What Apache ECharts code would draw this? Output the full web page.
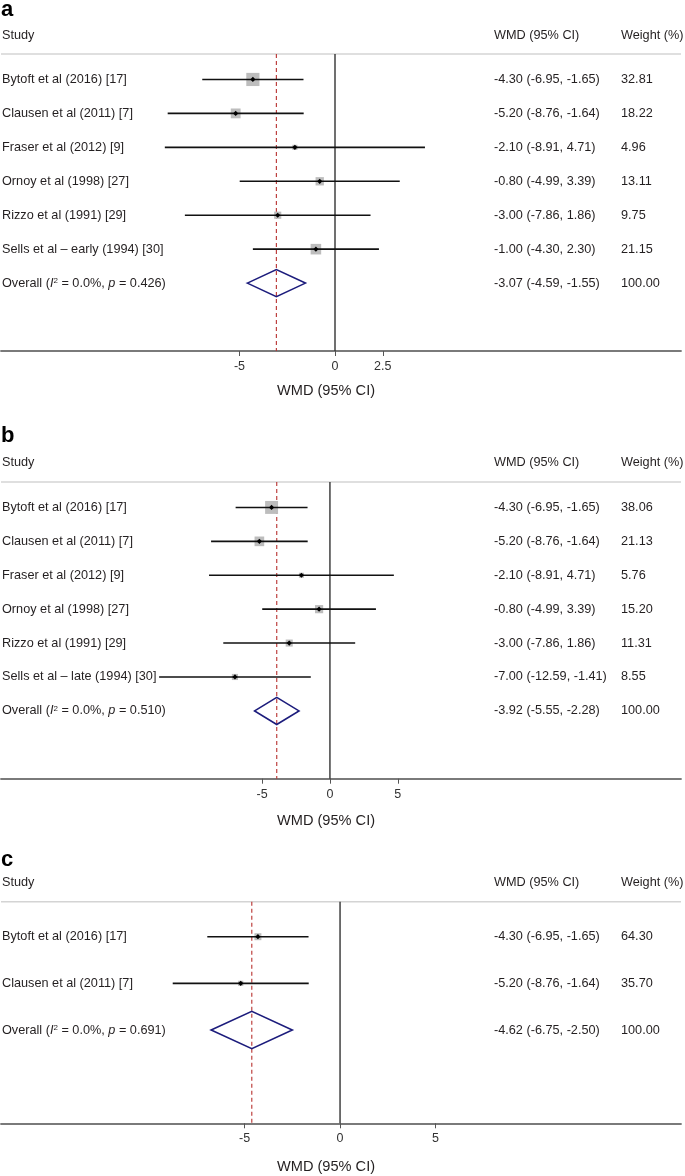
<!DOCTYPE html>
<html><head><meta charset="utf-8">
<script src="https://cdn.jsdelivr.net/npm/echarts@6/dist/echarts.min.js"></script>
<style>html,body{margin:0;padding:0;background:#fff}#c{width:685px;height:1176px}</style>
</head><body><div id="c"></div>
<script>
// ---------- DATA ----------
const panelLetters = ['a', 'b', 'c'];

const studiesA = ['Bytoft et al (2016) [17]', 'Clausen et al (2011) [7]', 'Fraser et al (2012) [9]', 'Ornoy et al (1998) [27]', 'Rizzo et al (1991) [29]', 'Sells et al \u2013 early (1994) [30]'];
const estA = [-4.30, -5.20, -2.10, -0.80, -3.00, -1.00];
const lowA = [-6.95, -8.76, -8.91, -4.99, -7.86, -4.30];
const highA = [-1.65, -1.64, 4.71, 3.39, 1.86, 2.30];
const weightA = [32.81, 18.22, 4.96, 13.11, 9.75, 21.15];
const overallA = [-3.07, -4.59, -1.55];
const i2A = '0.0%';
const pA = '0.426';
const ticksA = [-5, 0, 2.5];
const tickLabelsA = ['-5', '0', '2.5'];

const studiesB = ['Bytoft et al (2016) [17]', 'Clausen et al (2011) [7]', 'Fraser et al (2012) [9]', 'Ornoy et al (1998) [27]', 'Rizzo et al (1991) [29]', 'Sells et al \u2013 late (1994) [30]'];
const estB = [-4.30, -5.20, -2.10, -0.80, -3.00, -7.00];
const lowB = [-6.95, -8.76, -8.91, -4.99, -7.86, -12.59];
const highB = [-1.65, -1.64, 4.71, 3.39, 1.86, -1.41];
const weightB = [38.06, 21.13, 5.76, 15.20, 11.31, 8.55];
const overallB = [-3.92, -5.55, -2.28];
const i2B = '0.0%';
const pB = '0.510';
const ticksB = [-5, 0, 5];
const tickLabelsB = ['-5', '0', '5'];

const studiesC = ['Bytoft et al (2016) [17]', 'Clausen et al (2011) [7]'];
const estC = [-4.30, -5.20];
const lowC = [-6.95, -8.76];
const highC = [-1.65, -1.64];
const weightC = [64.30, 35.70];
const overallC = [-4.62, -6.75, -2.50];
const i2C = '0.0%';
const pC = '0.691';
const ticksC = [-5, 0, 5];
const tickLabelsC = ['-5', '0', '5'];

const headStudy = 'Study';
const headEffect = 'WMD (95% CI)';
const headWeight = 'Weight (%)';
const axisTitle = 'WMD (95% CI)';
const overallWord = 'Overall';

// ---------- LAYOUT / STYLE ----------
const FONT = '"Liberation Sans", Arial, Helvetica, sans-serif';
const TXT = '#231f20';
const FS = 12.7;
const colEffectX = 494;
const colWeightX = 621;

const panels = [
  { letter: panelLetters[0], studies: studiesA, est: estA, low: lowA, high: highA, weight: weightA, overall: overallA, i2: i2A, p: pA, ticks: ticksA, tickLabels: tickLabelsA,
    top: 54, height: 297, min: -17.487, max: 18.115, boxK: 2.3, letterY: 10, headY: 35.4, titleY: 391 },
  { letter: panelLetters[1], studies: studiesB, est: estB, low: lowB, high: highB, weight: weightB, overall: overallB, i2: i2B, p: pB, ticks: ticksB, tickLabels: tickLabelsB,
    top: 482, height: 296.7, min: -24.24, max: 25.87, boxK: 2.1, letterY: 435.5, headY: 462.9, titleY: 821 },
  { letter: panelLetters[2], studies: studiesC, est: estC, low: lowC, high: highC, weight: weightC, overall: overallC, i2: i2C, p: pC, ticks: ticksC, tickLabels: tickLabelsC,
    top: 901.7, height: 221.6, min: -17.75, max: 17.85, boxK: 0.87, letterY: 859.5, headY: 882.2, titleY: 1166.6 }
];

const fmt = v => v.toFixed(2);
const ciText = (e, l, h) => fmt(e) + ' (' + fmt(l) + ', ' + fmt(h) + ')';

function textEl(x, y, text, extra) {
  return {
    type: 'text', x: x, y: y,
    style: Object.assign({ text: text, fill: TXT, fontSize: FS, fontFamily: FONT, align: 'left', verticalAlign: 'middle' }, extra || {})
  };
}

const grids = [], xAxes = [], yAxes = [], series = [], graphics = [];

panels.forEach((P, k) => {
  const nRows = P.studies.length + 1;
  grids.push({ left: 1, right: 4, top: P.top, height: P.height, outerBoundsMode: 'none', containLabel: false });
  xAxes.push({
    type: 'value', gridIndex: k, min: P.min, max: P.max, position: 'bottom',
    axisLine: { show: true, onZero: false, lineStyle: { color: '#7a7a7a', width: 1.8 } },
    axisTick: { show: true, customValues: P.ticks, length: 5, lineStyle: { color: '#555', width: 1 } },
    axisLabel: { show: true, customValues: P.ticks, margin: 9, fontSize: 12.5, fontFamily: FONT, color: '#333',
      formatter: v => { const i = P.ticks.indexOf(v); return i >= 0 ? P.tickLabels[i] : ''; } },
    splitLine: { show: false }
  });
  yAxes.push({ type: 'value', gridIndex: k, min: -0.75, max: nRows + 1, inverse: true, show: false });

  const overallRow = P.studies.length;

  // frame: header line, zero line, dashed overall line
  series.push({
    type: 'custom', xAxisIndex: k, yAxisIndex: k, silent: true, z: 1,
    data: [[P.overall[0], 0]],
    renderItem: (params, api) => {
      const cs = params.coordSys;
      const yTop = api.coord([0, -0.75])[1];
      const yBot = api.coord([0, nRows + 1])[1];
      const x0 = api.coord([0, 0])[0];
      const xe = api.coord([api.value(0), 0])[0];
      return { type: 'group', children: [
        { type: 'line', shape: { x1: cs.x, y1: yTop, x2: cs.x + cs.width, y2: yTop }, style: { stroke: '#d4d4d4', lineWidth: 1.5 } },
        { type: 'line', shape: { x1: x0, y1: yTop, x2: x0, y2: yBot }, style: { stroke: '#333', lineWidth: 1.4 } },
        { type: 'line', shape: { x1: xe, y1: yTop, x2: xe, y2: yBot }, style: { stroke: '#b8312f', lineWidth: 1.1, lineDash: [4, 3] } }
      ] };
    }
  });

  // studies
  series.push({
    type: 'custom', xAxisIndex: k, yAxisIndex: k, silent: true, z: 3,
    data: P.studies.map((s, i) => [P.est[i], P.low[i], P.high[i], P.weight[i], i]),
    renderItem: (params, api) => {
      const e = api.value(0), l = api.value(1), h = api.value(2), w = api.value(3), r = api.value(4);
      const pe = api.coord([e, r]), pl = api.coord([l, r]), ph = api.coord([h, r]);
      const bs = P.boxK * Math.sqrt(w);
      const d = 2.6;
      const i = params.dataIndex;
      return { type: 'group', children: [
        { type: 'rect', shape: { x: pe[0] - bs / 2, y: pe[1] - bs / 2, width: bs, height: bs }, style: { fill: '#bdbdbd' } },
        { type: 'line', shape: { x1: pl[0], y1: pl[1], x2: ph[0], y2: ph[1] }, style: { stroke: '#111', lineWidth: 1.6 } },
        { type: 'polygon', shape: { points: [[pe[0] - d, pe[1]], [pe[0], pe[1] - d], [pe[0] + d, pe[1]], [pe[0], pe[1] + d]] }, style: { fill: '#000' } },
        textEl(2, pe[1], P.studies[i]),
        textEl(colEffectX, pe[1], ciText(P.est[i], P.low[i], P.high[i])),
        textEl(colWeightX, pe[1], fmt(P.weight[i]))
      ] };
    }
  });

  // overall diamond
  series.push({
    type: 'custom', xAxisIndex: k, yAxisIndex: k, silent: true, z: 3,
    data: [[P.overall[0], P.overall[1], P.overall[2], overallRow]],
    renderItem: (params, api) => {
      const e = api.value(0), l = api.value(1), h = api.value(2), r = api.value(3);
      const pL = api.coord([l, r]), pT = api.coord([e, r - 0.4]), pR = api.coord([h, r]), pB = api.coord([e, r + 0.4]);
      const weightTotal = P.weight.reduce((a, b) => a + b, 0);
      return { type: 'group', children: [
        { type: 'polygon', shape: { points: [pL, pT, pR, pB] }, style: { fill: 'rgba(0,0,0,0)', stroke: '#1c1c7c', lineWidth: 1.6 } },
        textEl(2, pL[1], overallWord + ' ({i|I}{sup|2} = ' + P.i2 + ', {i|p} = ' + P.p + ')', {
          rich: {
            i: { fontStyle: 'italic', fontSize: FS, fontFamily: FONT, fill: TXT },
            sup: { fontSize: 8, fontFamily: FONT, fill: TXT, verticalAlign: 'top', lineHeight: 8 }
          }
        }),
        textEl(colEffectX, pL[1], ciText(e, l, h)),
        textEl(colWeightX, pL[1], fmt(Math.round(weightTotal)))
      ] };
    }
  });

  // headings
  graphics.push({ type: 'text', x: 1, y: P.letterY, style: { text: P.letter, fontSize: 22, fontWeight: 'bold', fontFamily: FONT, fill: '#000', align: 'left', verticalAlign: 'middle' } });
  graphics.push({ type: 'text', x: 2, y: P.headY, style: { text: headStudy, fontSize: FS, fontFamily: FONT, fill: TXT, align: 'left', verticalAlign: 'middle' } });
  graphics.push({ type: 'text', x: colEffectX, y: P.headY, style: { text: headEffect, fontSize: FS, fontFamily: FONT, fill: TXT, align: 'left', verticalAlign: 'middle' } });
  graphics.push({ type: 'text', x: colWeightX, y: P.headY, style: { text: headWeight, fontSize: FS, fontFamily: FONT, fill: TXT, align: 'left', verticalAlign: 'middle' } });
  graphics.push({ type: 'text', x: 326, y: P.titleY, style: { text: axisTitle, fontSize: 14.6, fontFamily: FONT, fill: TXT, align: 'center', verticalAlign: 'middle' } });
});

const chart = echarts.init(document.getElementById('c'), null, { renderer: 'canvas' });
chart.setOption({
  animation: false,
  backgroundColor: '#fff',
  grid: grids,
  xAxis: xAxes,
  yAxis: yAxes,
  series: series,
  graphic: graphics
});
</script>
</body></html>
